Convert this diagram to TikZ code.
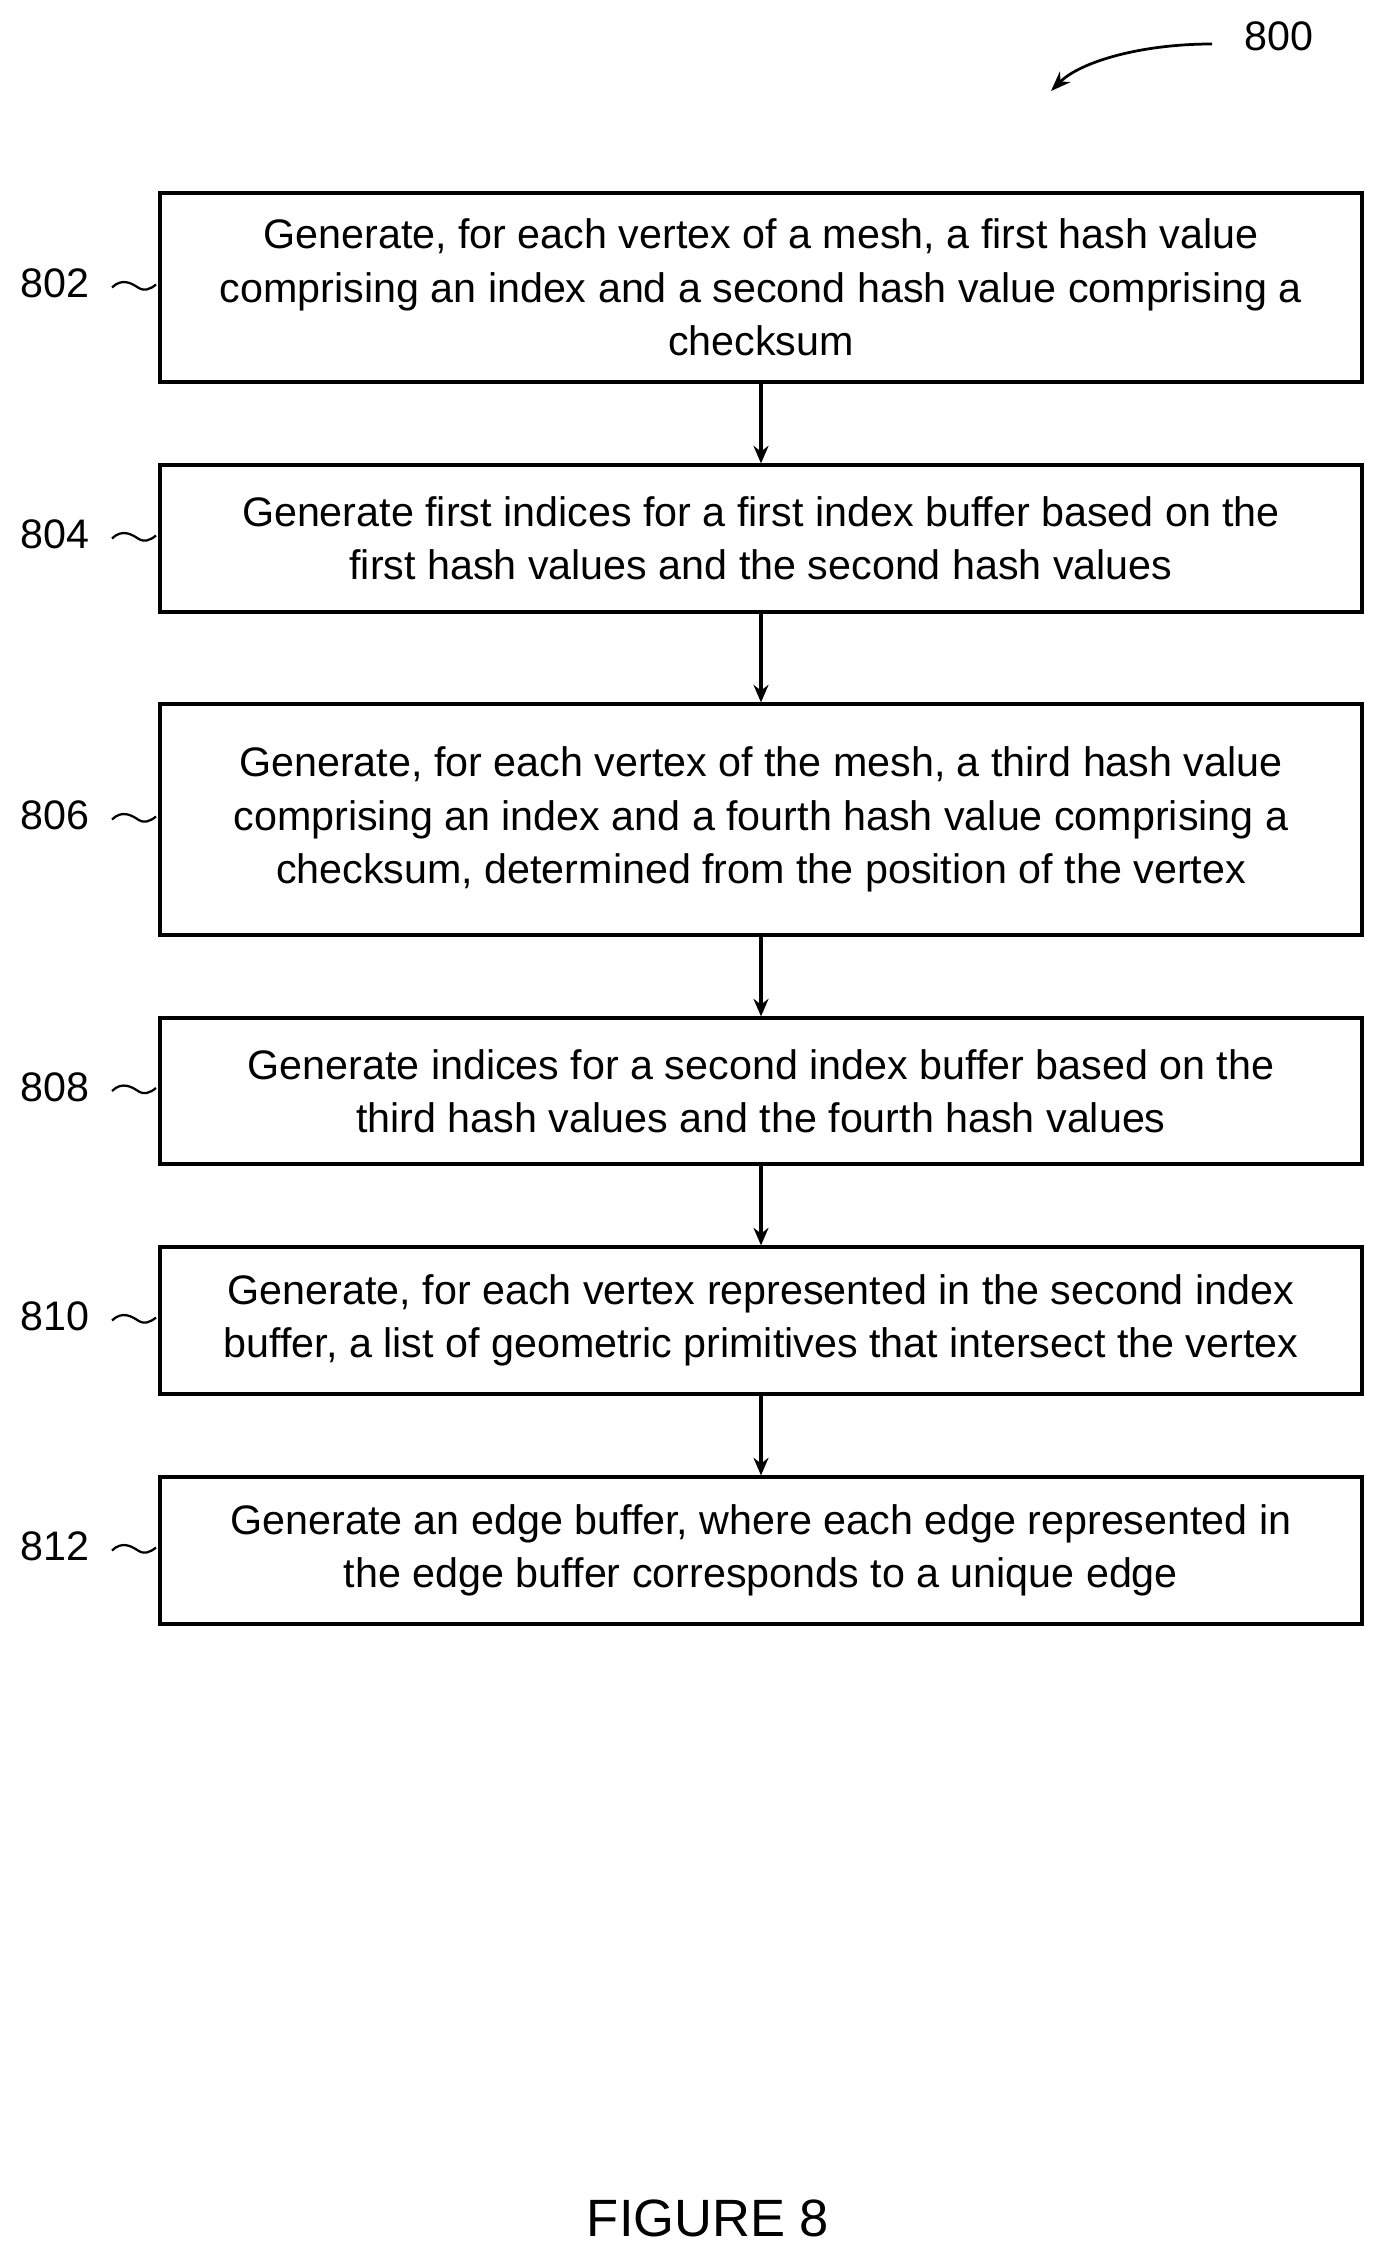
\documentclass[tikz,border=0pt]{standalone}
\usepackage{fontspec}
\setmainfont{Liberation Sans}
\usetikzlibrary{arrows.meta}
\begin{document}
\begin{tikzpicture}[x=0.4pt,y=-0.4pt,
  box/.style={draw,line width=1.3pt,minimum width=480.8pt,align=center,inner sep=0pt,font=\fontsize{16.5}{21.3}\selectfont},
  lab/.style={font=\fontsize{16.5}{20}\selectfont},
  arr/.style={-{Stealth[length=7pt,width=6pt]},line width=1.3pt},
  sq/.style={line width=0.9pt}]
\useasboundingbox (0,0) rectangle (1382,2252);
\def\mk#1#2#3#4{%
  \node[box,minimum height={(#3-#2)*0.4pt}] (b#1) at (761,{(#2+#3)/2}) {#4};
  \node[lab] (l#1) at (55,{(#2+#3)/2-4}) {#1};
  \draw[sq] (112,{(#2+#3)/2}) .. controls (122,{(#2+#3)/2-10}) and (132,{(#2+#3)/2-4}) .. (138,{(#2+#3)/2}) .. controls (144,{(#2+#3)/2+4}) and (150,{(#2+#3)/2+2}) .. (156,{(#2+#3)/2-3});}
\mk{802}{193}{382}{Generate, for each vertex of a mesh, a first hash value\\comprising an index and a second hash value comprising a\\checksum}
\mk{804}{465}{612}{Generate first indices for a first index buffer based on the\\first hash values and the second hash values}
\mk{806}{704}{935}{Generate, for each vertex of the mesh, a third hash value\\comprising an index and a fourth hash value comprising a\\checksum, determined from the position of the vertex}
\mk{808}{1018}{1164}{Generate indices for a second index buffer based on the\\third hash values and the fourth hash values}
\mk{810}{1247}{1394}{Generate, for each vertex represented in the second index\\buffer, a list of geometric primitives that intersect the vertex}
\mk{812}{1477}{1624}{Generate an edge buffer, where each edge represented in\\the edge buffer corresponds to a unique edge}
\draw[arr] (b802) -- (b804);
\draw[arr] (b804) -- (b806);
\draw[arr] (b806) -- (b808);
\draw[arr] (b808) -- (b810);
\draw[arr] (b810) -- (b812);
\node[lab] (n800) at (1279,36) {800};
\coordinate (c800) at (1212,44);
\coordinate (t800) at (1051,91);
\draw[-{Stealth[length=8pt,width=6pt]},line width=1.1pt] (c800) .. controls (1140,44) and (1080,62) .. (t800);
\node[font=\fontsize{21}{24}\selectfont] (fig) at (708,2218) {FIGURE 8};
\end{tikzpicture}
\end{document}
